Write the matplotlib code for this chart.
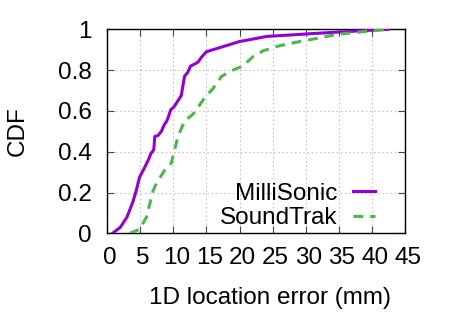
import matplotlib
matplotlib.use("Agg")
import matplotlib.pyplot as plt
import matplotlib.transforms as mtransforms

plt.rcParams['font.family'] = ['Liberation Sans', 'DejaVu Sans']
plt.rcParams['lines.scale_dashes'] = False

# MilliSonic CDF (error in mm, cumulative fraction)
ms_err = [0.8, 2.0, 3.0, 3.9, 4.4, 4.9, 5.7, 6.3, 6.6, 7.05, 7.2, 7.7, 8.2, 8.6,
          9.0, 9.2, 9.6, 10.1, 10.6, 11.2, 11.7, 12.2, 12.6, 13.25, 13.75, 14.3,
          15.0, 17.0, 20.0, 24.1, 29.1, 34.1, 42.4]
ms_cdf = [0.0, 0.03, 0.08, 0.155, 0.21, 0.275, 0.325, 0.365, 0.39, 0.41, 0.475,
          0.48, 0.50, 0.53, 0.55, 0.565, 0.605, 0.62, 0.645, 0.675, 0.77, 0.79,
          0.82, 0.83, 0.84, 0.865, 0.89, 0.91, 0.94, 0.965, 0.975, 0.985, 1.0]

# SoundTrak CDF
st_err = [3.4, 4.9, 5.95, 6.95, 7.45, 8.7, 9.7, 10.7, 11.7, 13.0, 14.0, 14.75,
          16.0, 17.3, 19.0, 20.5, 22.0, 23.6, 26.1, 29.1, 31.6, 34.7, 39.2, 42.4]
st_cdf = [0.0, 0.02, 0.08, 0.21, 0.245, 0.31, 0.345, 0.475, 0.55, 0.585, 0.63,
          0.665, 0.71, 0.77, 0.80, 0.82, 0.865, 0.895, 0.92, 0.94, 0.955, 0.975,
          0.99, 1.0]

x_ticks = [0, 5, 10, 15, 20, 25, 30, 35, 40, 45]
y_ticks = [0, 0.2, 0.4, 0.6, 0.8, 1.0]
y_tick_labels = ["0", "0.2", "0.4", "0.6", "0.8", "1"]

FS = 17.5

fig = plt.figure(figsize=(4.5, 3.15), dpi=100)
ax = fig.add_axes([0.238, 0.259, 0.662, 0.648])

ax.plot(ms_err, ms_cdf, color='#9400d3', lw=2.2, label='MilliSonic', zorder=3)
ax.plot(st_err, st_cdf, color='#4db84a', lw=2.2, dashes=(7, 5), label='SoundTrak', zorder=3)

ax.set_xlim(0, 45)
ax.set_ylim(0, 1)
ax.set_xticks(x_ticks)
ax.set_xticklabels([str(v) for v in x_ticks])
ax.set_yticks(y_ticks)
ax.set_yticklabels(y_tick_labels)
ax.tick_params(direction='in', length=5, width=0.8, top=True, right=True,
               labelsize=FS, color='#444444')
ax.tick_params(axis='x', pad=10)
ax.tick_params(axis='y', pad=11)
ax.grid(True, color='#bbbbbb', linestyle=(0, (1, 2)), linewidth=0.8)
for s in ax.spines.values():
    s.set_linewidth(1.0)

# small rightward nudge of x tick labels, as in the reference
off = mtransforms.ScaledTranslation(3 / 100, 0, fig.dpi_scale_trans)
for lab in ax.get_xticklabels():
    lab.set_transform(lab.get_transform() + off)

ax.set_xlabel('1D location error (mm)', fontsize=FS)
ax.set_ylabel('CDF', fontsize=FS)
ax.xaxis.set_label_coords(0.547, -0.262)
ax.yaxis.set_label_coords(-0.262, 0.5)

leg = ax.legend(loc='lower right', bbox_to_anchor=(0.9, 0.02), frameon=False,
                markerfirst=False, fontsize=FS, handlelength=0.9,
                handletextpad=0.65, labelspacing=0.1, borderaxespad=0.0,
                borderpad=0.0)

fig.savefig('out.png', dpi=100)
